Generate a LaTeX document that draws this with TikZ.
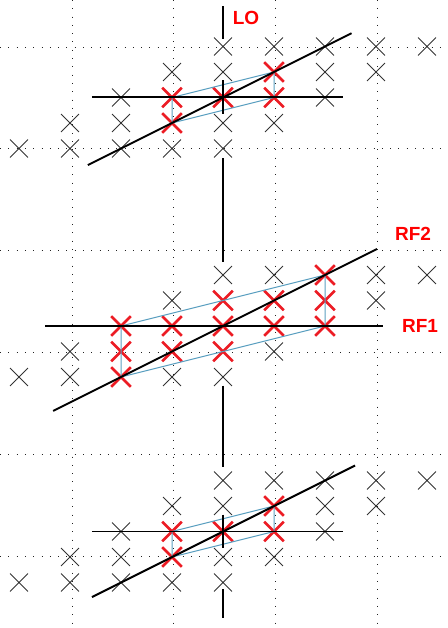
\documentclass[tikz,border=0pt]{standalone}
\usepackage{fontspec}
\setsansfont{Liberation Sans}
\usepackage{tikz}
\usetikzlibrary{shapes.misc, calc}
\definecolor{crossgray}{HTML}{333333}
\definecolor{crossred}{HTML}{EC1C24}
\definecolor{labelred}{HTML}{FF0000}
\definecolor{cellblue}{HTML}{5A9FC0}
\definecolor{gridgray}{HTML}{222222}

\tikzset{
  xblk/.style={cross out, draw=crossgray, line width=0.9pt, minimum size=17pt, inner sep=0pt},
  xred/.style={cross out, draw=crossred, line width=2.6pt, minimum size=17pt, inner sep=0pt},
  gridline/.style={gridgray, line width=0.9pt, dash pattern=on 0.9pt off 7.4pt},
  axisline/.style={black, line width=2pt},
  cellline/.style={cellblue, line width=1pt},
  lbl/.style={labelred, font=\fontsize{19}{19}\selectfont\sffamily\bfseries, inner sep=0pt}
}

\begin{document}
\begin{tikzpicture}[x=1pt, y=-1pt]
  \useasboundingbox (0,0) rectangle (447,628);

  % dotted grid
  \foreach \k in {0,...,5}
    \draw[gridline] (0, 47+101.9*\k) -- (447, 47+101.9*\k);
  \foreach \k in {0,...,3}
    \draw[gridline] (72+101.9*\k, 0) -- (72+101.9*\k, 628);

  % top and bottom lattices
  \foreach \p/\yc in {t/97.5, b/531.5} {
    \foreach \c in {4,...,8} \node[xblk] (\p0\c) at (19+51*\c, \yc-51) {};
    \foreach \c in {3,4,6,7} \node[xblk] (\p1\c) at (19+51*\c, \yc-25.5) {};
    \node[xred] (\p15) at (274, \yc-25.5) {};
    \foreach \c in {2,6} \node[xblk] (\p2\c) at (19+51*\c, \yc) {};
    \foreach \c in {3,4,5} \node[xred] (\p2\c) at (19+51*\c, \yc) {};
    \foreach \c in {1,2,4,5} \node[xblk] (\p3\c) at (19+51*\c, \yc+25.5) {};
    \node[xred] (\p33) at (172, \yc+25.5) {};
    \foreach \c in {0,...,4} \node[xblk] (\p4\c) at (19+51*\c, \yc+51) {};
  }

  % middle lattice
  \foreach \c in {4,5,7,8} \node[xblk] (m0\c) at (19+51*\c, 275) {};
  \node[xred] (m06) at (325, 275) {};
  \foreach \c in {3,7} \node[xblk] (m1\c) at (19+51*\c, 300.5) {};
  \foreach \c in {4,5,6} \node[xred] (m1\c) at (19+51*\c, 300.5) {};
  \foreach \c in {2,...,6} \node[xred] (m2\c) at (19+51*\c, 326) {};
  \foreach \c in {1,5} \node[xblk] (m3\c) at (19+51*\c, 351.5) {};
  \foreach \c in {2,3,4} \node[xred] (m3\c) at (19+51*\c, 351.5) {};
  \foreach \c in {0,1,3,4} \node[xblk] (m4\c) at (19+51*\c, 377) {};
  \node[xred] (m42) at (121, 377) {};

  % cells
  \draw[cellline] (t23.center) -- (t15.center) -- (t25.center) -- (t33.center) -- cycle;
  \draw[cellline] (m22.center) -- (m06.center) -- (m26.center) -- (m42.center) -- cycle;
  \draw[cellline] (b23.center) -- (b15.center) -- (b25.center) -- (b33.center) -- cycle;

  % horizontal axes
  \draw[axisline] ($(t24.center)!-2.57!(t25.center)$) -- ($(t24.center)!2.35!(t25.center)$);
  \draw[axisline] ($(m24.center)!-3.49!(m25.center)$) -- ($(m24.center)!3.14!(m25.center)$);
  \draw[black, line width=1pt] ($(b24.center)!-2.57!(b25.center)$) -- ($(b24.center)!2.35!(b25.center)$);

  % slanted axes
  \draw[axisline] ($(t24.center)!-2.65!(t15.center)$) -- ($(t24.center)!2.52!(t15.center)$);
  \draw[axisline] ($(m24.center)!-3.33!(m15.center)$) -- ($(m24.center)!3.02!(m15.center)$);
  \draw[axisline] ($(b24.center)!-2.57!(b15.center)$) -- ($(b24.center)!2.59!(b15.center)$);

  % vertical signal path
  \draw[axisline] ([yshift=40pt]t04.center) -- ([yshift=7pt]t04.center);
  \draw[axisline] ([yshift=17pt]t24.center) -- ([yshift=-17pt]t24.center);
  \draw[axisline] ([yshift=-10pt]t44.center) -- ([yshift=13pt]m04.center);
  \draw[axisline] ([yshift=-8.5pt]m44.center) -- ([yshift=13.5pt]b04.center);
  \draw[axisline] ([yshift=17pt]b24.center) -- ([yshift=-16pt]b24.center);
  \draw[axisline] ([yshift=-6.5pt]b44.center) -- ([yshift=-35.5pt]b44.center);

  % labels
  \node[lbl] (lo) at (246, 18) {LO};
  \node[lbl] (rf2) at (413, 234) {RF2};
  \node[lbl] (rf1) at (420, 326) {RF1};
\end{tikzpicture}
\end{document}
